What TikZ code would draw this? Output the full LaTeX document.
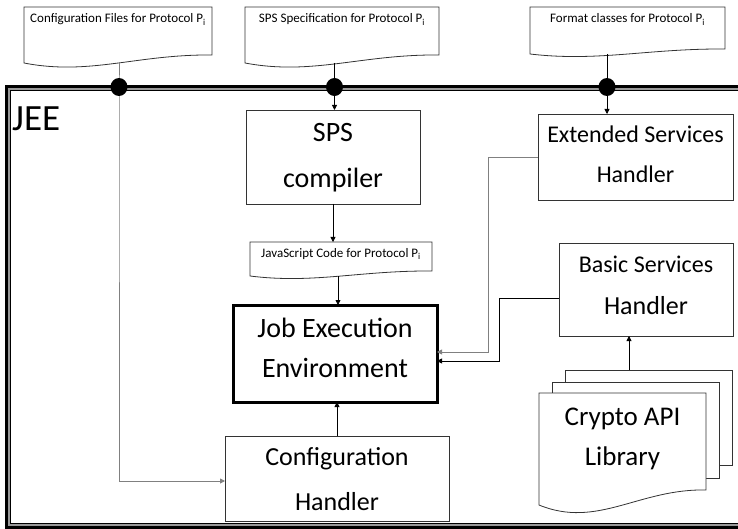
\documentclass[tikz,border=0pt]{standalone}
\usepackage{fontspec}
\setmainfont{Carlito}
\usetikzlibrary{arrows.meta,calc}

% document shape: straight top and sides, wavy bottom edge
\newcommand\wavydoc[2]{%
  \draw[docline] (#1.north west) -- (#1.north east) -- ($(#1.south east)+(0,-#2)$)
    .. controls ($(#1.south west)!0.6!(#1.south east)+(0,{-1.1*#2})$)
    and ($(#1.south west)!0.35!(#1.south east)+(0,{1.6*#2})$) .. (#1.south west) -- cycle;}

% box contents: width, height, distance from top to first baseline, lines
\newcommand\boxlines[4]{\parbox[c][#2][t]{#1}{\centering\rule{0pt}{#3}#4}}

\begin{document}
\begin{tikzpicture}[x=1pt,y=-1pt,
  box/.style={draw=black!80, line width=0.9pt, fill=white,
    inner sep=0pt, outer sep=0pt},
  doc/.style={inner sep=0pt, outer sep=0pt, font=\fontsize{13}{15}\selectfont, text height=16pt},
  conn/.style={draw=black, line width=0.8pt},
  conngray/.style={draw=black!50, line width=0.9pt},
  tip/.style={-{Triangle[length=5pt,width=5pt]}},
  docline/.style={draw=black!80, line width=0.8pt},
  sheet/.style={draw=black!80, line width=0.8pt, fill=white},
  junction/.style={fill=black}
]
\useasboundingbox (0,0) rectangle (738,529);
\clip (0,0) rectangle (738,529);
\fill[white] (0,0) rectangle (738,529);

% JEE container frame (double border, open to the right)
\draw[line width=3pt] (6.5,86.5) rectangle (745,527.5);
\draw[black!40,line width=1.5pt] (8.8,88.8) rectangle (745,525.2);
\draw[line width=0.8pt] (10.5,90.5) rectangle (745,523.6);
\node[font=\fontsize{37}{40}\selectfont, anchor=base west, inner sep=0pt] (jee) at (12,131) {JEE};

% input documents
\node[doc, minimum width=188pt, text depth=40pt] (doc1) at (118,35) {Configuration Files for Protocol P\textsubscript{i}};
\node[doc, minimum width=194pt, text depth=40pt] (doc2) at (342,35) {SPS Specification for Protocol P\textsubscript{i}};
\node[doc, minimum width=195pt, text depth=31pt] (doc3) at (627.5,30.5) {Format classes for Protocol P\textsubscript{i}};
\wavydoc{doc1}{8}
\wavydoc{doc2}{8}
\wavydoc{doc3}{5}

% processing boxes
\node[box, font=\fontsize{28}{46}\selectfont] (sps) at (333,157)
  {\boxlines{174pt}{94pt}{32pt}{SPS\\compiler}};
\node[doc, minimum width=182pt, text height=15pt, text depth=19pt] (js) at (341,259) {JavaScript Code for Protocol P\textsubscript{i}};
\wavydoc{js}{5}
\node[box, draw=black, line width=3pt, font=\fontsize{28}{40}\selectfont] (exec) at (335,353.5)
  {\boxlines{204pt}{97pt}{32pt}{Job Execution\\Environment}};
\node[box, font=\fontsize{26}{45}\selectfont] (cfgh) at (337,478.5)
  {\boxlines{224pt}{85pt}{29pt}{Configuration\\Handler}};
\node[box, font=\fontsize{24}{40}\selectfont] (esh) at (635.5,157)
  {\boxlines{195pt}{86pt}{29pt}{Extended Services\\Handler}};
\node[box, font=\fontsize{24}{42}\selectfont] (bsh) at (646,289.5)
  {\boxlines{174pt}{93pt}{29pt}{Basic Services\\{\fontsize{26}{42}\selectfont Handler}}};

% stacked library documents
\draw[sheet] (565,370) rectangle (732,465);
\draw[sheet] (552,382) rectangle (719,478);
\draw[sheet] (539,393) -- (706,393) -- (706,490)
  .. controls (639,488.5) and (597.5,529) .. (539,505) -- cycle;
\node[align=center, inner sep=0pt, font=\fontsize{27}{40}\selectfont] (crypto) at (622.5,439) {Crypto API\\Library};
\coordinate (cryptotop) at (629,370);

% junction points on the container border
\coordinate (j1) at (119,87);
\coordinate (j2) at (334.5,87);
\coordinate (j3) at (607,87);

% connectors
\draw[conngray, tip] (j1 |- doc1.south) -- (j1) |- ([yshift=-2.5pt]cfgh.west);
\draw[conn, tip] (j2 |- doc2.south) -- (j2 |- sps.north);
\draw[conn, tip] (j3 |- doc3.south) -- (j3 |- esh.north);
\draw[conn, tip] (sps.south) -- (sps.south |- js.north);
\draw[conn, tip] ([xshift=-3pt]js.south) -- ([xshift=-3pt]js.south |- exec.north);
\draw[conn, tip] (cfgh.north) -- (cfgh.north |- exec.south);
\draw[conngray, tip] (esh.west) -- ++(-50,0) |- ([yshift=1.5pt]exec.east);
\draw[conn, tip] ([yshift=-8.5pt]bsh.west) -- ++(-60,0) |- ([yshift=-7.5pt]exec.east);
\draw[conn, tip] (cryptotop) -- (cryptotop |- bsh.south);

% junction dots
\foreach \j in {j1,j2,j3}
  \fill[junction] (\j) ellipse [x radius=8.5pt, y radius=9pt];
\end{tikzpicture}
\end{document}
